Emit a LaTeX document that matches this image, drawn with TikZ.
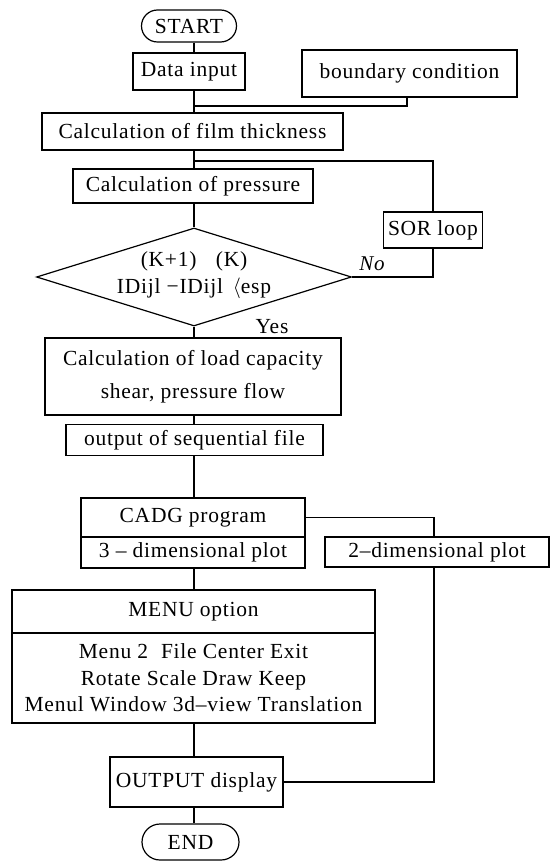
\documentclass[tikz,border=0pt]{standalone}
\usepackage{fontspec}
\setmainfont{Liberation Serif}[LetterSpace=3.5]
\usetikzlibrary{shapes.geometric,shapes.misc}
\begin{document}
\begin{tikzpicture}[x=1pt,y=-1pt,
  txt/.style={inner sep=0pt, align=center, font=\fontsize{21.5}{26.5}\selectfont},
  box/.style={txt, draw, line width=1.2pt},
  term/.style={box, rounded rectangle},
  ln/.style={line width=1.2pt},
]
\useasboundingbox (0,0) rectangle (551,861);
% nodes
\node[term, minimum width=95, minimum height=32] (start) at (189,26) {START};
\node[box, minimum width=112, minimum height=37] (datain) at (189,71.5) {Data input};
\node[box, minimum width=215, minimum height=47] (bc) at (409.5,73.5) {boundary condition};
\node[box, minimum width=301, minimum height=37] (film) at (192.5,131.5) {Calculation of film thickness};
\node[box, minimum width=240, minimum height=34] (press) at (193,186) {Calculation of pressure};
\node[box, minimum width=99, minimum height=36] (sor) at (433,230) {SOR loop};
\node[draw, line width=1.2pt, shape=diamond, inner sep=0pt, minimum width=315, minimum height=98] (dia) at (194,277) {};
\node[txt] (dtxt) at (194,275) {(K+1)\hspace{0.9em}(K)\\ IDijl −IDijl \,$\langle$esp};
\node[txt, font=\fontsize{21}{26}\selectfont\itshape] (no) at (372,264) {No};
\node[txt] (yes) at (272,327) {Yes};
\node[box, font=\fontsize{21.5}{33}\selectfont, minimum width=296, minimum height=77] (load) at (193,376.5) {Calculation of load capacity\\ shear, pressure flow};
\node[box, minimum width=257, minimum height=31] (seq) at (194.5,440) {output of sequential file};
\node[box, minimum width=224, minimum height=39] (cadg) at (193,517.5) {CADG program};
\node[box, minimum width=224, minimum height=31] (plot3) at (193,552.5) {3 – dimensional plot};
\node[box, minimum width=224, minimum height=30] (plot2) at (437,552) {2–dimensional plot};
\node[box, minimum width=363, minimum height=43] (menu) at (193.5,611.5) {MENU option};
\node[box, minimum width=363, minimum height=90] (menub) at (193.5,678) {Menu 2\hspace{0.6em}File Center Exit\\ Rotate Scale Draw Keep\\ Menul Window 3d–view Translation};
\node[box, minimum width=173, minimum height=50] (out) at (196.5,782) {OUTPUT display};
\node[term, minimum width=97, minimum height=36] (end) at (190.5,842) {END};
% helper coordinates
\coordinate (spine) at (194,0);
\coordinate (bcx) at (407,0);
\coordinate (j1) at (194,106);
\coordinate (j2) at (194,161);
\coordinate (c2) at (434,0);
% connectors
\draw[ln] (start.south -| spine) -- (datain.north -| spine);
\draw[ln] (datain.south -| spine) -- (film.north -| spine);
\draw[ln] (bc.south -| bcx) |- (j1);
\draw[ln] (film.south -| spine) -- (press.north -| spine);
\draw[ln] (j2) -| (sor.north);
\draw[ln] (press.south -| spine) -- (dia.north);
\draw[ln] (sor.south) |- (dia.east);
\draw[ln] (dia.south) -- (load.north -| spine);
\draw[ln] (load.south -| spine) -- (seq.north -| spine);
\draw[ln] (seq.south -| spine) -- (cadg.north -| spine);
\draw[ln] (cadg.east) -| (plot2.north -| c2);
\draw[ln] (plot3.south -| spine) -- (menu.north -| spine);
\draw[ln] (menub.south -| spine) -- (out.north -| spine);
\draw[ln] (plot2.south -| c2) |- (out.east);
\draw[ln] (out.south -| spine) -- (end.north -| spine);
\end{tikzpicture}
\end{document}
